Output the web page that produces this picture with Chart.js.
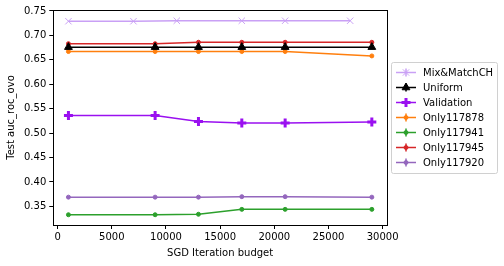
<!DOCTYPE html>
<html>
<head>
<meta charset="utf-8">
<script src="https://cdn.jsdelivr.net/npm/chart.js@4.4.1/dist/chart.umd.min.js"></script>
<style>
    html, body { margin: 0; padding: 0; background: #fff; }
    #wrap { width: 504px; height: 266px; }
</style>
</head>
<body>
<div id="wrap"><canvas id="chart" width="504" height="266"></canvas></div>
<script>
// x positions (SGD iterations)
const mixBudgets = [1000, 7000, 11000, 17000, 21000, 27000];
const budgets = [1000, 9000, 13000, 17000, 21000, 29000];

// series values
const mixMatch = [0.729, 0.729, 0.730, 0.730, 0.730, 0.730];
const uniform = [0.676, 0.676, 0.676, 0.676, 0.676, 0.676];
const validation = [0.536, 0.536, 0.524, 0.521, 0.521, 0.523];
const only117878 = [0.667, 0.667, 0.667, 0.667, 0.667, 0.658];
const only117941 = [0.333, 0.333, 0.334, 0.344, 0.344, 0.344];
const only117945 = [0.683, 0.683, 0.686, 0.686, 0.686, 0.686];
const only117920 = [0.369, 0.369, 0.369, 0.370, 0.370, 0.369];

const xTicks = [0, 5000, 10000, 15000, 20000, 25000, 30000];
const yTicks = [0.35, 0.40, 0.45, 0.50, 0.55, 0.60, 0.65, 0.70, 0.75];

const FONT = 'DejaVu Sans';

function pts(xs, ys) {
    return xs.map((x, i) => ({ x: x, y: ys[i] }));
}

function series(label, xs, ys, color, style, radius, bw) {
    return {
        label: label,
        data: pts(xs, ys),
        borderColor: color,
        backgroundColor: color,
        pointBorderColor: color,
        pointBackgroundColor: color,
        borderWidth: 1.5,
        pointStyle: style,
        pointRadius: radius,
        pointBorderWidth: bw,
        tension: 0
    };
}

const datasets = [
    series('Mix&MatchCH', mixBudgets, mixMatch, '#c9a0f5', 'crossRot', 4.5, 1),
    series('Uniform', budgets, uniform, '#000000', 'triangle', 4.5, 1),
    series('Validation', budgets, validation, '#9a10f0', 'cross', 4.5, 3),
    series('Only117878', budgets, only117878, '#ff7f0e', 'circle', 2, 1),
    series('Only117941', budgets, only117941, '#2ca02c', 'circle', 2, 1),
    series('Only117945', budgets, only117945, '#d62728', 'circle', 2, 1),
    series('Only117920', budgets, only117920, '#9467bd', 'circle', 2, 1)
];

// top/right spines
const framePlugin = {
    id: 'frame',
    afterDraw(chart) {
        const a = chart.chartArea;
        const ctx = chart.ctx;
        ctx.save();
        ctx.strokeStyle = '#000';
        ctx.lineWidth = 1;
        ctx.strokeRect(Math.round(a.left) + 0.5, Math.round(a.top) + 0.5,
            Math.round(a.right - a.left), Math.round(a.bottom - a.top));
        ctx.restore();
    }
};

// matplotlib-like legend to the right of the axes
const legendPlugin = {
    id: 'mplLegend',
    afterDraw(chart) {
        const ctx = chart.ctx;
        const a = chart.chartArea;
        const sets = chart.data.datasets;
        const rowH = 15;
        const boxX = a.right + 4;
        const boxW = 106;
        const boxH = sets.length * rowH + 6;
        const boxY = (a.top + a.bottom) / 2 - boxH / 2;
        ctx.save();
        ctx.fillStyle = 'rgba(255,255,255,0.8)';
        ctx.strokeStyle = '#d0d0d0';
        ctx.lineWidth = 1;
        ctx.beginPath();
        ctx.roundRect(boxX + 0.5, boxY + 0.5, boxW, boxH, 2);
        ctx.fill();
        ctx.stroke();
        ctx.font = '10px "' + FONT + '"';
        ctx.textBaseline = 'middle';
        sets.forEach((ds, i) => {
            const cy = boxY + 3 + rowH * i + rowH / 2;
            const lx = boxX + 5;
            ctx.strokeStyle = ds.borderColor;
            ctx.lineWidth = 1.5;
            ctx.beginPath();
            ctx.moveTo(lx, cy);
            ctx.lineTo(lx + 20, cy);
            ctx.stroke();
            // error bar stub
            ctx.beginPath();
            ctx.moveTo(lx + 10, cy - 4);
            ctx.lineTo(lx + 10, cy + 4);
            ctx.stroke();
            ctx.fillStyle = ds.borderColor;
            ctx.strokeStyle = ds.borderColor;
            ctx.lineWidth = ds.pointBorderWidth;
            Chart.helpers.drawPoint(ctx, {
                pointStyle: ds.pointStyle,
                radius: ds.pointRadius,
                borderWidth: ds.pointBorderWidth,
                rotation: 0
            }, lx + 10, cy);
            ctx.fillStyle = '#000';
            ctx.fillText(ds.label, lx + 27, cy + 0.5);
        });
        ctx.restore();
    }
};

const ctx = document.getElementById('chart').getContext('2d');
const chart = new Chart(ctx, {
    type: 'line',
    data: { datasets: datasets },
    plugins: [framePlugin, legendPlugin],
    options: {
        responsive: false,
        animation: false,
        devicePixelRatio: 1,
        layout: { padding: { left: 5, right: 117, top: 10, bottom: 3 } },
        plugins: {
            legend: { display: false },
            tooltip: { enabled: false }
        },
        scales: {
            x: {
                type: 'linear',
                min: -400,
                max: 30400,
                afterBuildTicks: axis => { axis.ticks = xTicks.map(v => ({ value: v })); },
                grid: { drawOnChartArea: false, drawTicks: true, tickLength: 4, color: '#000' },
                border: { display: true, color: '#000', width: 1 },
                ticks: {
                    color: '#000',
                    font: { family: FONT, size: 10 },
                    maxRotation: 0,
                    padding: 2,
                    callback: v => String(v)
                },
                title: {
                    display: true,
                    text: 'SGD Iteration budget',
                    color: '#000',
                    font: { family: FONT, size: 10 },
                    padding: { top: 2, bottom: 4 }
                }
            },
            y: {
                type: 'linear',
                min: 0.312,
                max: 0.752,
                afterBuildTicks: axis => { axis.ticks = yTicks.map(v => ({ value: v })); },
                grid: { drawOnChartArea: false, drawTicks: true, tickLength: 4, color: '#000' },
                border: { display: true, color: '#000', width: 1 },
                ticks: {
                    color: '#000',
                    font: { family: FONT, size: 10 },
                    padding: 3,
                    callback: v => v.toFixed(2)
                },
                title: {
                    display: true,
                    text: 'Test auc_roc_ovo',
                    color: '#000',
                    font: { family: FONT, size: 10 },
                    padding: { top: 0, bottom: 4 }
                }
            }
        }
    }
});
</script>
</body>
</html>
